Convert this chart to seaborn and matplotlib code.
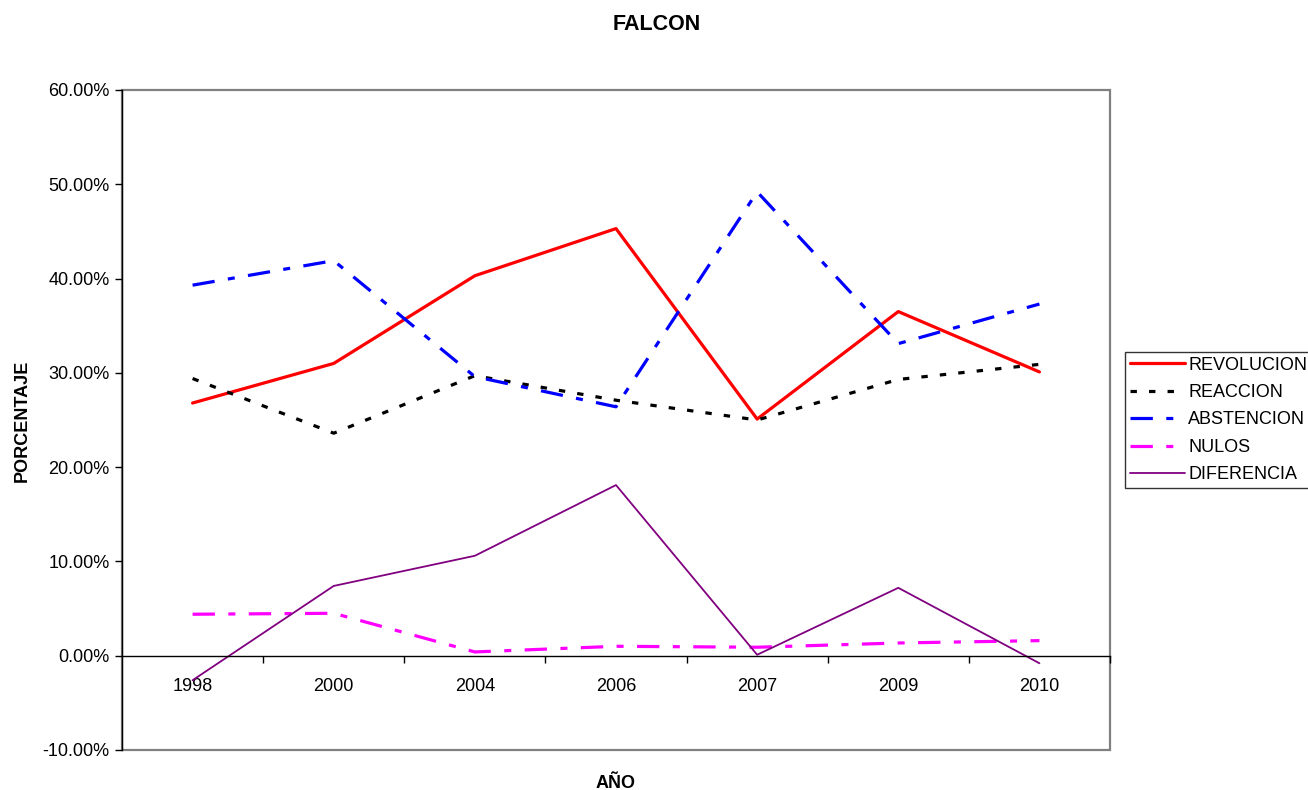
import numpy as np
import pandas as pd
import matplotlib
matplotlib.use("Agg")
import matplotlib.pyplot as plt
import seaborn as sns
from matplotlib.patches import Rectangle
from matplotlib.ticker import FuncFormatter, FixedLocator

# data (percent)
years = ["1998", "2000", "2004", "2006", "2007", "2009", "2010"]
revolucion = [26.8, 31.0, 40.3, 45.3, 25.1, 36.5, 30.1]
reaccion = [29.4, 23.6, 29.7, 27.1, 25.0, 29.3, 30.9]
abstencion = [39.3, 41.9, 29.6, 26.4, 49.2, 33.1, 37.3]
nulos = [4.4, 4.5, 0.4, 1.0, 0.9, 1.35, 1.6]
diferencia = [-2.6, 7.4, 10.6, 18.1, 0.1, 7.2, -0.8]

sns.set_style("white")
plt.rcParams["font.family"] = ["Liberation Sans", "DejaVu Sans"]
plt.rcParams["text.color"] = "black"
plt.rcParams["xtick.color"] = "black"
plt.rcParams["ytick.color"] = "black"
plt.rcParams["axes.labelcolor"] = "black"

fig = plt.figure(figsize=(13.08, 7.9), dpi=100)
ax = fig.add_axes([122 / 1308, 1 - 750 / 790, 988 / 1308, 660 / 790])

series = [
    ("REVOLUCION", revolucion, "#ff0000", 2.3, "-"),
    ("REACCION", reaccion, "#000000", 2.3, (0, (2.0, 3.8))),
    ("ABSTENCION", abstencion, "#0000ff", 2.3, (0, (7.0, 4.2, 2.2, 4.2))),
    ("NULOS", nulos, "#ff00ff", 2.3, (0, (7.0, 4.2, 2.2, 4.2))),
    ("DIFERENCIA", diferencia, "#800080", 1.3, "-"),
]

for name, vals, color, lw, ls in series:
    df = pd.DataFrame({"year": years, "value": vals})
    sns.lineplot(data=df, x="year", y="value", ax=ax, color=color,
                 linewidth=lw, linestyle=ls, label=name, sort=False)

ax.set_xlim(-0.5, len(years) - 0.5)
ax.set_ylim(-10, 60)
ax.set_yticks(np.arange(-10, 61, 10))
ax.yaxis.set_major_formatter(FuncFormatter(lambda v, p: f"{v:.2f}%"))
ax.tick_params(axis="y", which="major", left=True, direction="out", length=5,
               width=1, color="black", labelcolor="black", labelsize=13, pad=4)

# category axis sits on the zero line
ax.spines["bottom"].set_position(("data", 0))
ax.spines["bottom"].set_color("black")
ax.spines["bottom"].set_linewidth(1)
ax.spines["left"].set_color("black")
ax.spines["left"].set_linewidth(1)
for s in ["top", "right"]:
    ax.spines[s].set_visible(False)
ax.set_xticks(range(len(years)))
ax.set_xticklabels(years)
ax.xaxis.set_minor_locator(FixedLocator(np.arange(0.5, len(years), 1.0)))
ax.tick_params(axis="x", which="major", bottom=True, length=0, labelsize=13,
               labelcolor="black", pad=16)
ax.tick_params(axis="x", which="minor", bottom=True, direction="out", length=5,
               width=1, color="black")

# grey plot-area frame
ax.add_patch(Rectangle((0, 0), 1, 1, transform=ax.transAxes, fill=False,
                       edgecolor="#808080", linewidth=1.6, zorder=0.5, clip_on=False))

ax.set_xlabel("")
ax.set_ylabel("")
fig.text(657 / 1308, 1 - 25 / 790, "FALCON", ha="center", va="center",
         fontsize=15.5, fontweight="bold", color="black")
fig.text(22 / 1308, 1 - 421 / 790, "PORCENTAJE", ha="center", va="center",
         rotation=90, fontsize=13, fontweight="bold", color="black")
fig.text(616 / 1308, 1 - 783 / 790, "AÑO", ha="center", va="center",
         fontsize=13, fontweight="bold", color="black")

ax.get_legend().remove()
handles, labels = ax.get_legend_handles_labels()
leg = fig.legend(handles, labels, loc="center left",
                 bbox_to_anchor=(1125 / 1308, 1 - 420 / 790), fontsize=13,
                 frameon=True, fancybox=False, shadow=False, borderpad=0.25,
                 handlelength=3.05, handletextpad=0.2, labelspacing=0.58,
                 borderaxespad=0, labelcolor="black")
leg.get_frame().set_edgecolor("black")
leg.get_frame().set_linewidth(1)

fig.savefig("out.png", dpi=100)
